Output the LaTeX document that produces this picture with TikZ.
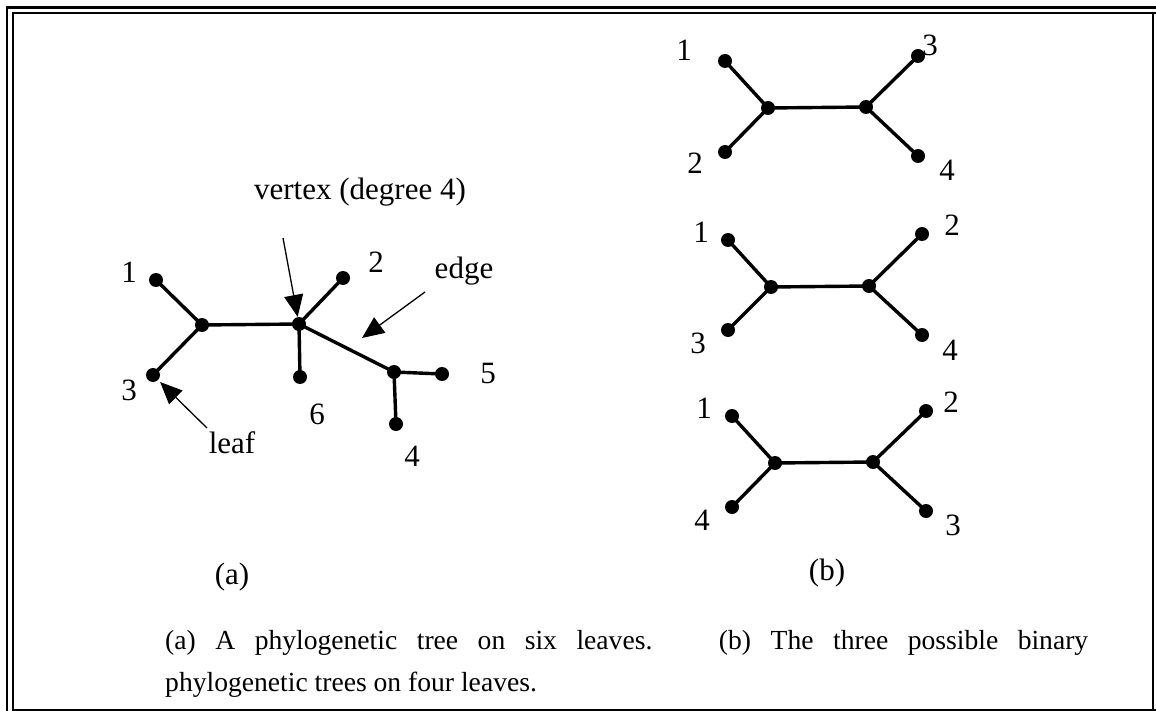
\documentclass[tikz,border=0pt]{standalone}
\usepackage{fontspec}
\setmainfont{Liberation Serif}
\newfontfamily\lblfont{Liberation Serif}
\newfontfamily\capfont{Liberation Serif}
\usetikzlibrary{arrows.meta}
\begin{document}
\begin{tikzpicture}[x=1pt,y=-1pt,
  dot/.style={circle,fill=black,inner sep=0pt,minimum size=14pt},
  branch/.style={line width=3.4pt},
  lbl/.style={font={\lblfont\fontsize{31}{36}\selectfont},inner sep=0pt},
  arr/.style={line width=1.3pt,-{Triangle[length=22pt,width=19pt]}},
  outerline/.style={line width=2.7pt},
  innerline/.style={line width=2pt}]
\useasboundingbox (0,0) rectangle (1156,711);
% frame
\draw[outerline] (7,711) -- (7,7.5) -- (1156,7.5);
\draw[innerline] (13,711) -- (13,13.5) -- (1156,13.5);
\draw[innerline] (1153,13.5) -- (1153,710);
\draw[innerline] (13,709.8) -- (1156,709.8);

% ---------- tree (a)
\node[dot] (a1) at (156,280) {};
\node[dot] (aA) at (202,325) {};
\node[dot] (a3) at (153,375) {};
\node[dot] (aV) at (299,324) {};
\node[dot] (a2) at (343,278) {};
\node[dot] (a6) at (300,377) {};
\node[dot] (aB) at (394,372) {};
\node[dot] (a5) at (442,374) {};
\node[dot] (a4) at (396,424) {};
\draw[branch] (a1.center) -- (aA.center) -- (a3.center);
\draw[branch] (aA.center) -- (aV.center) -- (a2.center);
\draw[branch] (aV.center) -- (a6.center);
\draw[branch] (aV.center) -- (aB.center) -- (a5.center);
\draw[branch] (aB.center) -- (a4.center);

\node[lbl] (ta1) at (129,272) {1};
\node[lbl] (ta2) at (376,262) {2};
\node[lbl] (ta3) at (129,390) {3};
\node[lbl] (ta5) at (488,374) {5};
\node[lbl] (ta6) at (317,414) {6};
\node[lbl] (ta4) at (412,456) {4};

\node[lbl,anchor=base] (tvert) at (360,200) {vertex (degree 4)};
\node[lbl,anchor=base] (tedge) at (464,279) {edge};
\node[lbl,anchor=base] (tleaf) at (232,453) {leaf};

\coordinate (vtail) at (283,238);
\coordinate (etail) at (425,292);
\coordinate (etip) at (362,338);
\coordinate (ltail) at (207,428);
\draw[arr] (vtail) -- (aV);
\draw[arr] (etail) -- (etip);
\draw[arr,shorten >=10pt] (ltail) -- (a3.center);

\node[lbl] (capa) at (232,577) {(a)};

% ---------- tree (b1)
\node[dot] (p1) at (725,61) {};
\node[dot] (pL) at (768,108) {};
\node[dot] (p2) at (725,152) {};
\node[dot] (pR) at (866,107) {};
\node[dot] (p3) at (918,56) {};
\node[dot] (p4) at (918,156) {};
\draw[branch] (p1.center) -- (pL.center) -- (p2.center);
\draw[branch] (pL.center) -- (pR.center);
\draw[branch] (p3.center) -- (pR.center) -- (p4.center);
\node[lbl] (tp1) at (684,50) {1};
\node[lbl] (tp2) at (695,163) {2};
\node[lbl] (tp3) at (930,45) {3};
\node[lbl] (tp4) at (947,170) {4};

% ---------- tree (b2)
\node[dot] (q1) at (728,240) {};
\node[dot] (qL) at (771,287) {};
\node[dot] (q3) at (728,330) {};
\node[dot] (qR) at (869,286) {};
\node[dot] (q2) at (922,234) {};
\node[dot] (q4) at (922,335) {};
\draw[branch] (q1.center) -- (qL.center) -- (q3.center);
\draw[branch] (qL.center) -- (qR.center);
\draw[branch] (q2.center) -- (qR.center) -- (q4.center);
\node[lbl] (tq1) at (701,232) {1};
\node[lbl] (tq3) at (698,343) {3};
\node[lbl] (tq2) at (952,225) {2};
\node[lbl] (tq4) at (950,350) {4};

% ---------- tree (b3)
\node[dot] (r1) at (732,416) {};
\node[dot] (rL) at (775,463) {};
\node[dot] (r4) at (732,507) {};
\node[dot] (rR) at (873,462) {};
\node[dot] (r2) at (926,411) {};
\node[dot] (r3) at (926,511) {};
\draw[branch] (r1.center) -- (rL.center) -- (r4.center);
\draw[branch] (rL.center) -- (rR.center);
\draw[branch] (r2.center) -- (rR.center) -- (r3.center);
\node[lbl] (tr1) at (704,408) {1};
\node[lbl] (tr4) at (702,520) {4};
\node[lbl] (tr2) at (951,402) {2};
\node[lbl] (tr3) at (953,525) {3};

\node[lbl] (capb) at (827,573) {(b)};

% ---------- caption
\node[anchor=base west,inner sep=0pt,text width=923pt,align=justify,
      font={\capfont\fontsize{27.6}{42}\selectfont}] (caption) at (165,649)
  {(a) A phylogenetic tree on six leaves. \ (b) The three possible binary\linebreak
   phylogenetic trees on four leaves.};
\end{tikzpicture}
\end{document}
